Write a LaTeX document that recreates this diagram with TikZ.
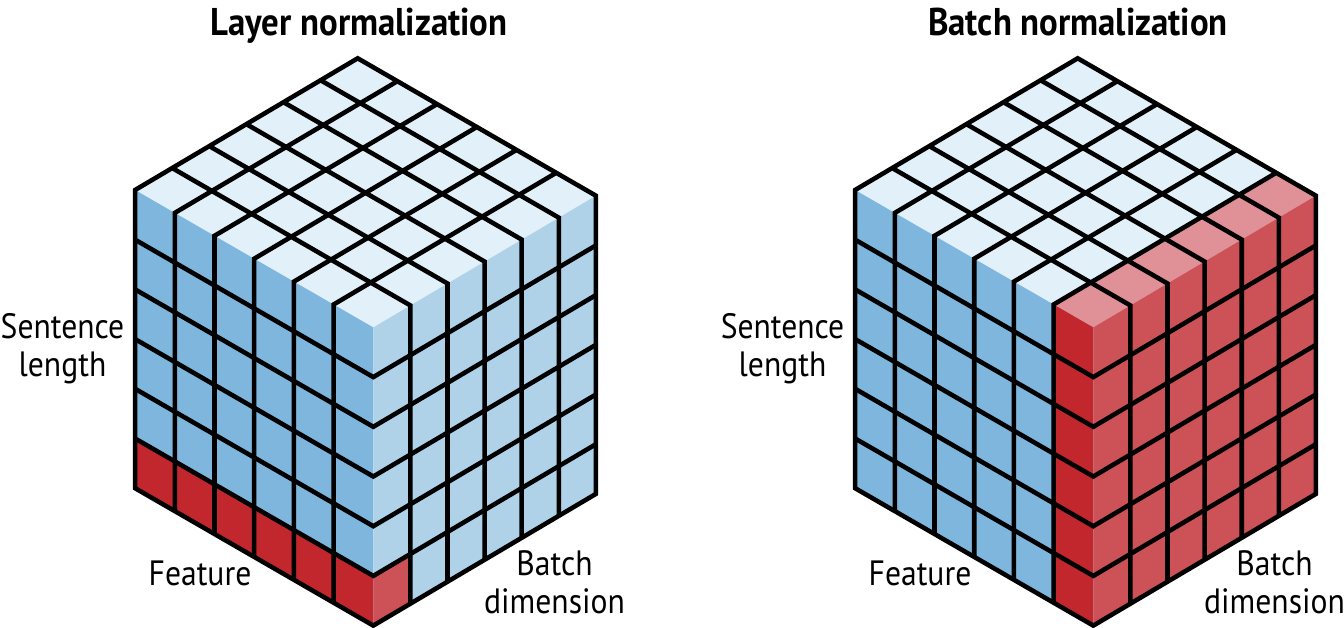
\documentclass[tikz,border=0pt]{standalone}
\usepackage{fontspec}
\setmainfont[FakeStretch=0.9]{PT Sans}
\usepackage{tikz}
\definecolor{celltop}{HTML}{E2F0F9}
\definecolor{cellleft}{HTML}{7FB6DD}
\definecolor{cellright}{HTML}{B0D2E9}
\definecolor{redtop}{HTML}{E09198}
\definecolor{redleft}{HTML}{C1272D}
\definecolor{redright}{HTML}{CD5258}
\tikzset{
  cubeaxes/.style={x={(0.794cm,-0.458cm)},y={(-0.742cm,-0.439cm)},z={(0cm,-0.994cm)}},
  gridline/.style={draw=black,line width=2.6pt,line join=miter},
  titlelabel/.style={font=\bfseries\fontsize{22}{24}\selectfont,align=center,inner sep=0pt,anchor=base},
  sidelabel/.style={font=\fontsize{20}{21.5}\selectfont,align=center,inner sep=0pt}
}
\newcommand{\cubefaces}{
  \fill[celltop] (0,0,0)--(6,0,0)--(6,6,0)--(0,6,0)--cycle;
  \fill[cellleft] (0,6,0)--(6,6,0)--(6,6,6)--(0,6,6)--cycle;
  \fill[cellright] (6,6,0)--(6,0,0)--(6,0,6)--(6,6,6)--cycle;
}
\newcommand{\cubegrid}{
  \foreach \n in {1,...,5} {
    \draw[gridline] (\n,0,0)--(\n,6,0)--(\n,6,6);
    \draw[gridline] (0,\n,0)--(6,\n,0)--(6,\n,6);
    \draw[gridline] (0,6,\n)--(6,6,\n)--(6,0,\n);
  }
  \draw[gridline] (0,6,6)--(0,6,0)--(0,0,0)--(6,0,0)--(6,0,6)--(6,6,6)--cycle;
}
\begin{document}
\begin{tikzpicture}
\useasboundingbox (0,0) rectangle (26.88,-12.56);
% layer normalization cube
\begin{scope}[shift={(7.154cm,-1.166cm)},cubeaxes]
  \cubefaces
  \fill[redleft] (0,6,5)--(6,6,5)--(6,6,6)--(0,6,6)--cycle;
  \fill[redright] (6,6,5)--(6,5,5)--(6,5,6)--(6,6,6)--cycle;
  \cubegrid
\end{scope}
% batch normalization cube
\begin{scope}[shift={(21.554cm,-1.166cm)},cubeaxes]
  \cubefaces
  \fill[redtop] (5,0,0)--(6,0,0)--(6,6,0)--(5,6,0)--cycle;
  \fill[redleft] (5,6,0)--(6,6,0)--(6,6,6)--(5,6,6)--cycle;
  \fill[redright] (6,6,0)--(6,0,0)--(6,0,6)--(6,6,6)--cycle;
  \cubegrid
\end{scope}
\node[titlelabel] (title_layer) at (7.18,-0.72) {Layer normalization};
\node[titlelabel] (title_batch) at (21.56,-0.72) {Batch normalization};
\node[sidelabel] (length_layer) at (1.25,-6.98) {Sentence\\length};
\node[sidelabel] (length_batch) at (15.65,-6.98) {Sentence\\length};
\node[sidelabel] (feature_layer) at (4.0,-11.46) {Feature};
\node[sidelabel] (feature_batch) at (18.4,-11.46) {Feature};
\node[sidelabel] (dim_layer) at (11.09,-11.64) {Batch\\dimension};
\node[sidelabel] (dim_batch) at (25.49,-11.64) {Batch\\dimension};
\end{tikzpicture}
\end{document}
